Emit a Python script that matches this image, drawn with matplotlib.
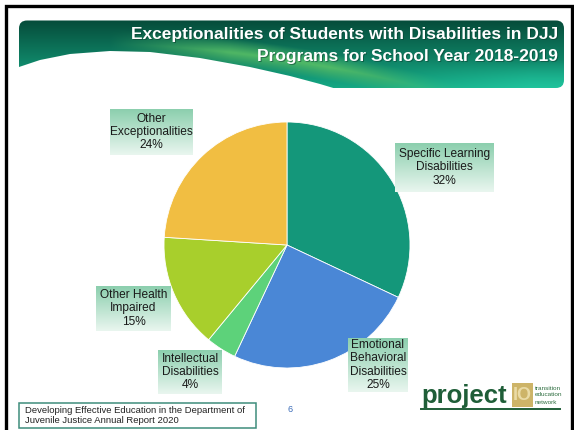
import numpy as np
import matplotlib
matplotlib.use("Agg")
import matplotlib.pyplot as plt
from matplotlib.patches import FancyBboxPatch, Rectangle, Polygon
from matplotlib.colors import to_rgb

plt.rcParams['font.family'] = ['Liberation Sans', 'DejaVu Sans']

# ---- data ----
categories = ["Specific Learning\nDisabilities", "Emotional\nBehavioral\nDisabilities",
              "Intellectual\nDisabilities", "Other Health\nImpaired", "Other\nExceptionalities"]
values = [32, 25, 4, 15, 24]
colors = ["#14977a", "#4a87d6", "#5dd27a", "#a8cf2c", "#f1be42"]
title_lines = ["Exceptionalities of Students with Disabilities in DJJ",
               "Programs for School Year 2018-2019"]
footer_text = "Developing Effective Education in the Department of\nJuvenile Justice Annual Report 2020"
page_number = "6"

W, H = 574, 430
fig = plt.figure(figsize=(W / 100, H / 100), dpi=100)
ax = fig.add_axes([0, 0, 1, 1])


def Y(y):
    return H - y


# ---- black slide frame ----
ax.plot([5.5, 5.5, 572, 572], [Y(430), Y(5.5), Y(5.5), Y(430)], color="black", lw=2.4,
        solid_joinstyle="miter", zorder=1)

# ---- header banner ----
bx0, bx1, by0, by1 = 19, 564, 20.5, 88
bw, bh = int(bx1 - bx0), int(by1 - by0)
xs = np.linspace(bx0, bx1, bw)[None, :]
ys = np.linspace(by0, by1, bh)[:, None]
t = (ys - by0) / (by1 - by0)
top = np.array(to_rgb("#064c3a"))
bot = np.array(to_rgb("#15a884"))
img = top[None, None, :] * (1 - t[..., None]) + bot[None, None, :] * t[..., None]
img = np.broadcast_to(img, (bh, bw, 3)).copy()
# light green wave band
curve = 50 + 0.00035 * (xs - 110) ** 2 + 0.03 * np.maximum(xs - 110, 0)
d = ys - (curve - 14)
band = np.clip(1 - np.abs(d - 8) / 14, 0, 1) * np.clip((xs - 110) / 120, 0, 1) * np.clip((480 - xs) / 150, 0, 1)
lg = np.array(to_rgb("#5cc266"))
img = img * (1 - 0.85 * band[..., None]) + lg[None, None, :] * 0.85 * band[..., None]
# teal lower right
tr = np.clip((ys - 60) / 28, 0, 1) * np.clip((xs - 380) / 150, 0, 1)
tc = np.array(to_rgb("#22c9a2"))
img = img * (1 - 0.8 * tr[..., None]) + tc[None, None, :] * 0.8 * tr[..., None]

banner = FancyBboxPatch((bx0, Y(by1)), bx1 - bx0, by1 - by0,
                        boxstyle="round,pad=0,rounding_size=8", facecolor="none",
                        edgecolor="none", transform=ax.transData)
ax.add_patch(banner)
im = ax.imshow(img, extent=(bx0, bx1, Y(by1), Y(by0)), origin="upper", aspect="auto", zorder=2)
im.set_clip_path(banner)
# white swoosh
sx = [19, 40, 70, 110, 150, 200, 250, 290, 320, 340, 340, 19]
sy = [67, 60, 54, 51, 52, 58, 67, 76, 84, 90, 92, 92]
sw = Polygon([(a, Y(b)) for a, b in zip(sx, sy)], closed=True, facecolor="white",
             edgecolor="none", zorder=3)
ax.add_patch(sw)

for i, (line, yy) in enumerate(zip(title_lines, [35, 57])):
    ax.text(558 + 0.8, Y(yy) - 0.8, line, ha="right", va="center", fontsize=12.5,
            fontweight="bold", color="#0a3a2c", alpha=0.5, zorder=4)
    ax.text(558, Y(yy), line, ha="right", va="center", fontsize=12.5,
            fontweight="bold", color="white", zorder=5)

# ---- pie ----
cx, cy, r = 287, 245, 123
ax.pie(values, colors=colors, startangle=90, counterclock=False,
       center=(cx, Y(cy)), radius=r,
       wedgeprops=dict(edgecolor="white", linewidth=0.6, zorder=6))

# ---- label boxes ----
grad = np.linspace(0, 1, 64)[:, None]
g_top = np.array(to_rgb("#8ccfae"))
g_bot = np.array(to_rgb("#e9f6ef"))
gimg = g_top[None, None, :] * (1 - grad[..., None]) + g_bot[None, None, :] * grad[..., None]
gimg = np.broadcast_to(gimg, (64, 2, 3))

boxes = [  # x0, x1, y0, y1 (image px) for each category
    (395, 494, 143, 192),
    (348, 408, 338, 392),
    (158, 222, 350, 394),
    (96, 171, 286, 331),
    (110, 193, 109, 155),
]
for (x0, x1, y0, y1), lab, v in zip(boxes, categories, values):
    ax.imshow(gimg, extent=(x0, x1, Y(y1), Y(y0)), origin="upper", aspect="auto", zorder=7)
    ax.text((x0 + x1) / 2, Y((y0 + y1) / 2), f"{lab}\n{v}%", ha="center", va="center",
            fontsize=8.6, color="#1a1a1a", linespacing=1.12, zorder=8)

# ---- footer ----
ax.add_patch(Rectangle((18.5, Y(427.5)), 237, 24.5, facecolor="white", edgecolor="#3e8d7c",
                       lw=1.1, zorder=7))
ax.text(25, Y(415.5), footer_text, ha="left", va="center", fontsize=6.8, color="#222222",
        linespacing=1.15, zorder=8)
ax.text(290, Y(410), page_number, ha="center", va="center", fontsize=6.5, color="#3a6bb8",
        zorder=8)

# ---- project IO logo ----
ax.text(421, Y(403), "project", ha="left", va="baseline", fontsize=18.5, fontweight="bold",
        color="#1f5e38", zorder=8)
ax.add_patch(Rectangle((512, Y(407)), 21, 24, facecolor="#cdb468", edgecolor="none", zorder=8))
ax.text(522.5, Y(395), "IO", ha="center", va="center", fontsize=13, fontweight="bold",
        color="#eadba6", zorder=9)
ax.plot([421, 560], [Y(409), Y(409)], color="#1f5e38", lw=1.4, zorder=8)
for txt, yy in zip(["transition", "education", "network"], [388, 395, 402]):
    ax.text(535, Y(yy), txt, ha="left", va="center", fontsize=4.6, color="#2e6e40", zorder=8)

ax.set_xlim(0, W)
ax.set_ylim(0, H)
ax.set_aspect("auto")
ax.axis("off")
fig.savefig("out.png", dpi=100)
